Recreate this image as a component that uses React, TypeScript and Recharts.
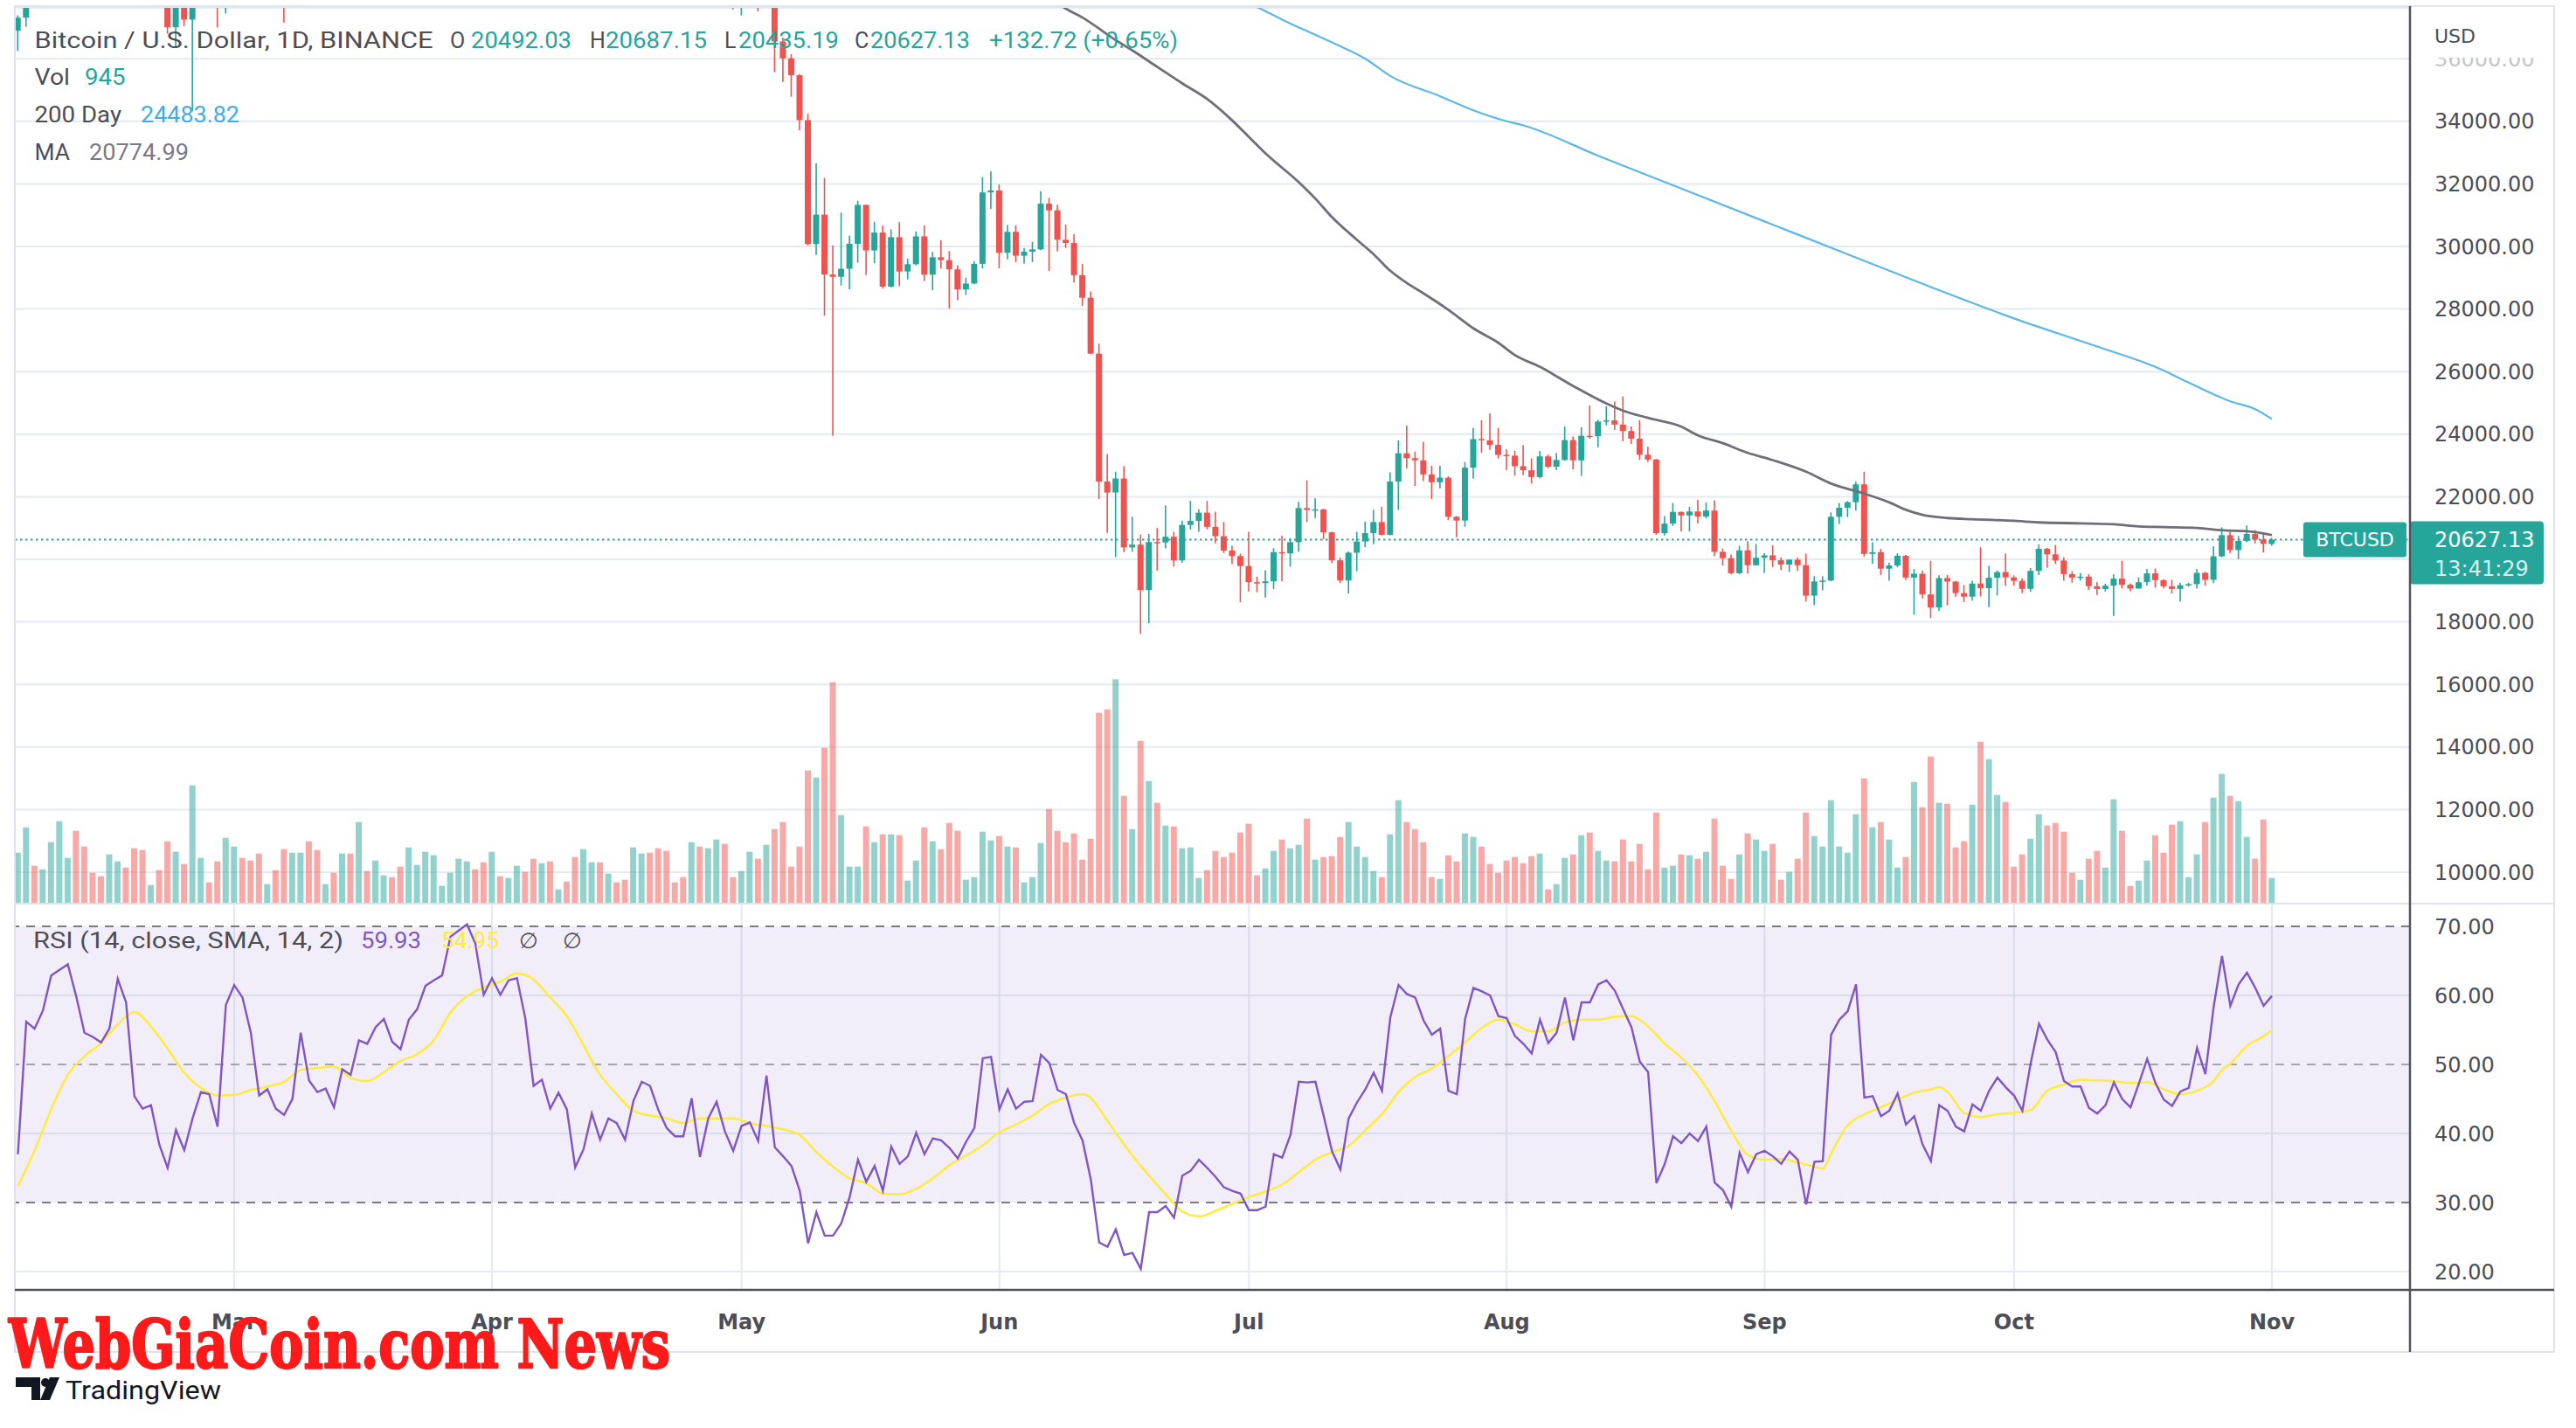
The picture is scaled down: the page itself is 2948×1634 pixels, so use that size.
import React from 'react';
import { ComposedChart, Bar, Line, XAxis, YAxis, CartesianGrid, ReferenceLine, ReferenceArea } from 'recharts';

// ---------------- DATA ----------------
// Daily candles [open, high, low, close], Feb 3 2022 .. Nov 1 2022
const febCandles = [
  [36896, 37387, 36250, 37311], [37311, 41772, 37026, 41574], [41574, 41913, 40843, 41382], [41382, 42657, 41116, 42380],
  [42380, 44500, 41645, 43839], [43839, 45492, 42666, 44042], [44042, 44799, 43117, 44373], [44373, 45821, 43187, 43495],
  [43495, 43920, 42000, 42373], [42373, 43079, 41748, 42217], [42217, 42760, 41870, 42053], [42053, 42876, 41570, 42535],
  [42535, 44751, 42427, 44544], [44544, 44549, 43307, 43873], [43873, 44164, 40073, 40515], [40515, 40959, 39450, 39974],
  [39974, 40444, 39639, 40079], [40079, 40124, 38000, 38386], [38386, 39494, 36800, 37008], [37008, 38429, 36350, 38230],
  [38230, 39249, 37036, 37250], [37250, 39843, 34322, 38327], [38327, 39683, 38014, 39219], [39219, 40348, 38573, 39116],
  [39116, 39855, 37000, 37700], [37700, 44225, 37450, 43160],
];
const marCandles = [
  [43160, 44949, 42809, 44421], [44421, 45400, 43334, 43892], [43892, 44102, 41832, 42455], [42455, 42527, 38550, 39148],
  [39148, 39613, 38407, 39397], [39397, 39693, 38088, 38420], [38420, 39547, 37155, 37988], [37988, 39362, 37867, 38730],
  [38730, 42594, 38656, 41941], [41941, 42039, 38539, 39422], [39422, 40236, 38223, 38729], [38729, 39486, 38660, 38807],
  [38807, 39310, 37700, 37777], [37777, 39947, 37650, 39671], [39671, 39887, 38098, 39280], [39280, 41718, 38828, 41114],
  [41114, 41478, 40500, 40917], [40917, 42325, 40135, 41757], [41757, 42400, 41499, 42201], [42201, 42296, 40911, 41262],
  [41262, 41544, 40468, 41002], [41002, 43361, 40875, 42364], [42364, 42893, 41751, 42882], [42882, 44220, 42560, 43991],
  [43991, 45094, 43579, 44313], [44313, 44792, 44071, 44511], [44511, 46999, 44422, 46827], [46827, 48190, 46664, 47122],
  [47122, 48096, 46950, 47434], [47434, 47700, 46445, 47067], [47067, 47600, 45200, 45510],
];
const aprCandles = [
  [45510, 46720, 44200, 46283], [46283, 47213, 45620, 45811], [45811, 47444, 45530, 46407], [46407, 46891, 45118, 46580],
  [46580, 47200, 45353, 45497], [45497, 45507, 43121, 43171], [43171, 43900, 42727, 43445], [43445, 43970, 42107, 42253],
  [42253, 42800, 42125, 42754], [42754, 43430, 41868, 42159], [42159, 42414, 39200, 39530], [39530, 40699, 39254, 40075],
  [40075, 41561, 39588, 41148], [41148, 41500, 39551, 39942], [39942, 40870, 39766, 40552], [40552, 40709, 39992, 40378],
  [40378, 40595, 39546, 39678], [39678, 41116, 38536, 40801], [40801, 41760, 40571, 41493], [41493, 42199, 40820, 41358],
  [41358, 42976, 39751, 40480], [40480, 40795, 39177, 39709], [39709, 39980, 39285, 39441], [39441, 39940, 38929, 39400],
  [39400, 40616, 38200, 40427], [40427, 40797, 37702, 38112], [38112, 39474, 37881, 39235], [39235, 40372, 38881, 39742],
  [39742, 39925, 38175, 38596], [38596, 38795, 37578, 37630],
];
const mayCandles = [
  [37630, 38675, 37386, 38468], [38468, 39167, 38052, 38525], [38525, 38651, 37510, 37729], [37729, 40023, 37671, 39690],
  [39690, 39845, 35571, 36552], [36552, 36675, 35258, 36013], [36013, 36146, 34785, 35472], [35472, 35510, 33713, 34039],
  [34039, 34244, 30033, 30077], [30077, 32659, 29730, 31017], [31017, 32190, 27785, 29103], [29103, 30033, 23950, 29030],
  [29030, 31083, 28751, 29287], [29287, 30343, 28630, 30086], [30086, 31460, 29480, 31329], [31329, 31329, 29088, 29874],
  [29874, 30788, 29460, 30444], [30444, 30668, 28654, 28716], [28716, 30545, 28691, 30297], [30297, 30777, 28730, 29200],
  [29200, 29607, 28947, 29432], [29432, 30480, 29400, 30323], [30323, 30670, 28893, 29098], [29098, 29830, 28600, 29655],
  [29655, 30200, 29300, 29562], [29562, 29850, 28019, 29267], [29267, 29400, 28282, 28627], [28627, 29000, 28450, 28814],
  [28814, 29530, 28800, 29445], [29445, 32222, 29300, 31726], [31726, 32399, 31200, 31792],
];
const junCandles = [
  [31792, 31982, 29301, 29799], [29799, 30690, 29590, 30467], [30467, 30675, 29500, 29704], [29704, 29950, 29450, 29832],
  [29832, 30150, 29500, 29906], [29906, 31765, 29880, 31370], [31370, 31555, 29218, 31155], [31155, 31330, 29845, 30214],
  [30214, 30700, 29950, 30112], [30112, 30390, 28850, 29083], [29083, 29440, 28100, 28360], [28360, 28560, 26560, 26574],
  [26574, 26895, 21925, 22487], [22487, 23362, 20846, 22136], [22136, 22800, 20071, 22583], [22583, 22980, 20232, 20381],
  [20381, 21365, 20246, 20471], [20471, 20790, 17622, 19017], [19017, 20815, 17960, 20553], [20553, 21000, 19637, 20540],
  [20540, 21723, 20348, 20720], [20720, 20880, 19770, 19965], [19965, 21233, 19890, 21100], [21100, 21868, 20950, 21226],
  [21226, 21600, 20880, 21490], [21490, 21868, 20960, 21038], [21038, 21520, 20510, 20740], [20740, 21190, 20200, 20280],
  [20280, 20430, 19850, 20104], [20104, 20180, 18626, 19785],
];
const julCandles = [
  [19785, 20880, 18975, 19269], [19269, 19440, 18950, 19242], [19242, 19650, 18781, 19297], [19297, 20355, 19050, 20231],
  [20231, 20750, 19304, 20190], [20190, 20675, 19765, 20548], [20548, 21838, 20240, 21637], [21637, 22527, 21190, 21582],
  [21582, 21950, 21320, 21596], [21596, 21610, 20650, 20862], [20862, 20880, 19880, 19970], [19970, 20050, 19240, 19323],
  [19323, 20250, 18910, 20212], [20212, 20880, 19620, 20569], [20569, 21200, 20390, 20836], [20836, 21580, 20480, 21190],
  [21190, 21680, 20760, 20780], [20780, 22780, 20765, 22485], [22485, 23800, 21580, 23389], [23389, 24276, 22900, 23231],
  [23231, 23440, 22341, 23164], [23164, 23756, 22500, 22714], [22714, 22990, 21930, 22465], [22465, 22990, 22270, 22609],
  [22609, 22655, 21250, 21361], [21361, 21380, 20706, 21239], [21239, 23110, 21040, 22930], [22930, 24199, 22580, 23843],
  [23843, 24442, 23410, 23804], [23804, 24668, 23500, 23656], [23656, 24200, 23225, 23336],
];
const augCandles = [
  [23336, 23510, 22850, 23314], [23314, 23470, 22670, 22978], [22978, 23650, 22690, 22846], [22846, 23225, 22430, 22630],
  [22630, 23460, 22590, 23289], [23289, 23350, 22910, 22961], [22961, 23395, 22855, 23175], [23175, 24245, 23155, 23810],
  [23810, 23925, 22880, 23164], [23164, 24225, 22665, 23948], [23948, 24918, 23860, 23935], [23935, 24458, 23580, 24403],
  [24403, 24890, 24288, 24441], [24441, 25047, 24140, 24305], [24305, 25211, 23773, 24101], [24101, 24247, 23688, 23854],
  [23854, 24446, 23180, 23342], [23342, 23600, 23110, 23191], [23191, 23208, 20783, 20834], [20834, 21382, 20762, 21140],
  [21140, 21800, 21068, 21516], [21516, 21522, 20890, 21400], [21400, 21680, 20890, 21529], [21529, 21900, 21150, 21368],
  [21368, 21819, 21310, 21560], [21560, 21887, 20100, 20241], [20241, 20347, 19800, 20037], [20037, 20150, 19520, 19555],
  [19555, 20433, 19530, 20285], [20285, 20577, 19540, 19812], [19812, 20490, 19800, 20050],
];
const sepCandles = [
  [20050, 20198, 19565, 20127], [20127, 20445, 19754, 19970], [19970, 20055, 19655, 19832], [19832, 20000, 19596, 19987],
  [19987, 20058, 19633, 19812], [19812, 20180, 18650, 18838], [18838, 19460, 18540, 19291], [19291, 19460, 19010, 19320],
  [19320, 21500, 19298, 21360], [21360, 21800, 21130, 21649], [21649, 21860, 21350, 21826], [21826, 22488, 21560, 22395],
  [22395, 22799, 20080, 20173], [20173, 20545, 19860, 20227], [20227, 20330, 19500, 19701], [19701, 19890, 19320, 19803],
  [19803, 20190, 19750, 20113], [20113, 20140, 19340, 19417], [19417, 19690, 18230, 19538], [19538, 19640, 18750, 18876],
  [18876, 19950, 18125, 18461], [18461, 19490, 18355, 19401], [19401, 19500, 18530, 19289], [19289, 19310, 18805, 18920],
  [18920, 19180, 18630, 18807], [18807, 19315, 18680, 19227], [19227, 20385, 18816, 19079], [19079, 19790, 18470, 19412],
  [19412, 19645, 18845, 19591], [19591, 20185, 19155, 19423],
];
const octCandles = [
  [19423, 19485, 19160, 19311], [19311, 19395, 18920, 19056], [19056, 19720, 18960, 19629], [19629, 20475, 19495, 20337],
  [20337, 20365, 19730, 20158], [20158, 20456, 19855, 19961], [19961, 20060, 19320, 19530], [19530, 19615, 19255, 19417],
  [19417, 19560, 19315, 19446], [19446, 19525, 19025, 19141], [19141, 19270, 18860, 19052], [19052, 19220, 18970, 19157],
  [19157, 19520, 18190, 19382], [19382, 19950, 19070, 19185], [19185, 19230, 18975, 19068], [19068, 19425, 19065, 19268],
  [19268, 19690, 19160, 19550], [19550, 19705, 19095, 19334], [19334, 19360, 19070, 19139], [19139, 19345, 18905, 19054],
  [19054, 19250, 18650, 19172], [19172, 19250, 19125, 19208], [19208, 19695, 19070, 19567], [19567, 19600, 19160, 19345],
  [19345, 20415, 19240, 20095], [20095, 21020, 20065, 20771], [20771, 20875, 20200, 20295], [20295, 20750, 20000, 20591],
  [20591, 21085, 20550, 20809], [20809, 20930, 20510, 20627], [20627, 20840, 20220, 20492],
];
const novCandles = [[20492.03, 20687.15, 20435.19, 20627.13]];

const febVol = [1873, 2803, 1391, 1263, 2258, 3028, 1680, 2675, 2097, 1134, 1006, 1808, 1552, 1327, 2033, 1969, 685, 1231, 2290, 1905, 1455, 4344, 1680, 781, 1552, 2418];
const marVol = [2097, 1680, 1584, 1840, 717, 1231, 2001, 1873, 1873, 2290, 1969, 717, 1134, 1840, 1840, 2996, 1198, 1584, 1038, 974, 1359, 2065, 1423, 1905, 1776, 653, 1134, 1648, 1552, 1263, 1519];
const aprVol = [1905, 1006, 942, 1391, 1166, 1648, 1487, 1552, 524, 813, 1712, 2001, 1519, 1519, 1102, 781, 877, 2065, 1840, 1873, 2033, 1937, 781, 974, 2258, 2097, 2033, 2354, 2194, 974];
const mayVol = [1198, 1905, 1648, 2161, 2739, 2996, 1359, 2097, 4890, 4633, 5725, 8132, 3253, 1359, 1359, 2836, 2258, 2547, 2547, 2515, 845, 1584, 2803, 2290, 2001, 2964, 2675, 877, 974, 2643, 2322];
const junVol = [2482, 2097, 2065, 781, 974, 2226, 3478, 2675, 2258, 2579, 1616, 2386, 7009, 7137, 8239, 3959, 2739, 5981, 4505, 3702, 2868, 2836, 2033, 2065, 942, 1231, 1937, 1712, 1873, 2611];
const julVol = [2932, 1038, 1295, 1937, 2354, 2033, 2161, 3124, 1616, 1712, 1744, 2450, 2996, 2097, 1712, 1198, 974, 2547, 3799, 2996, 2739, 2258, 974, 910, 1776, 1552, 2579, 2450, 2097, 1455, 1134];
const augVol = [1584, 1712, 1487, 1744, 1840, 524, 717, 1680, 1808, 2515, 2611, 1937, 1584, 1552, 2354, 1552, 2194, 1263, 3349, 1327, 1391, 1808, 1776, 1648, 1905, 3124, 1391, 910, 1808, 2579, 2354];
const sepVol = [1937, 2194, 877, 1166, 1648, 3349, 2482, 2097, 3799, 2097, 1873, 3285, 4601, 2803, 2996, 2354, 1327, 1712, 4473, 3542, 5404, 3702, 3670, 2065, 2290, 3638, 5949, 5307, 3991, 3734];
const octVol = [1359, 1808, 2386, 3285, 2868, 2964, 2643, 1134, 877, 1648, 1937, 1327, 3831, 2675, 653, 845, 1584, 2515, 1873, 2900, 3028, 974, 1808, 2996, 3895, 4762, 3959, 3766, 2450, 1648, 3092];
const novVol = [945];

const febRsi = [37.0, 56.2, 55.2, 57.8, 62.9, 63.7, 64.5, 59.9, 54.6, 54.0, 53.2, 55.2, 62.4, 59.0, 45.4, 43.6, 44.1, 38.4, 35.0, 40.5, 37.6, 42.2, 46.0, 45.7, 41.0, 58.6];
const marRsi = [61.5, 59.7, 54.6, 45.5, 46.4, 43.6, 42.7, 45.0, 54.6, 47.7, 46.0, 46.5, 43.8, 49.3, 48.5, 53.5, 53.0, 55.4, 56.6, 53.3, 52.2, 56.5, 58.0, 61.4, 62.2, 62.9, 68.5, 69.4, 70.3, 67.5, 60.1];
const aprRsi = [62.5, 60.1, 62.2, 62.5, 56.7, 46.9, 47.8, 43.6, 45.9, 43.5, 35.1, 37.7, 42.9, 39.1, 42.2, 41.5, 39.1, 44.7, 47.5, 46.9, 43.4, 40.8, 39.6, 39.6, 45.1, 36.6, 42.2, 44.6, 40.3, 37.5];
const mayRsi = [41.1, 41.6, 38.9, 48.4, 38.0, 36.7, 35.3, 31.7, 24.1, 28.6, 25.2, 25.2, 27.0, 30.8, 36.2, 33.0, 35.3, 31.7, 38.1, 35.6, 36.7, 40.1, 37.0, 39.3, 39.0, 37.9, 36.4, 38.8, 40.8, 50.9, 51.1];
const junRsi = [43.5, 46.4, 43.6, 44.6, 44.7, 51.4, 50.2, 46.3, 45.7, 41.5, 39.0, 33.3, 24.2, 23.6, 26.1, 22.4, 22.7, 20.4, 28.6, 28.6, 29.5, 27.8, 33.9, 34.6, 36.2, 35.0, 33.7, 32.2, 31.7, 31.3];
const julRsi = [28.9, 28.9, 29.4, 37.0, 36.5, 39.8, 47.5, 47.4, 47.5, 42.5, 37.4, 34.8, 42.2, 44.5, 46.4, 48.8, 46.2, 56.8, 61.5, 60.2, 59.7, 56.4, 54.3, 55.2, 46.2, 45.7, 56.6, 61.1, 60.6, 60.0, 57.0];
const augRsi = [56.7, 54.1, 53.0, 51.6, 56.5, 53.1, 54.6, 59.7, 53.5, 59.0, 59.0, 61.6, 62.2, 60.7, 58.0, 55.4, 50.4, 48.9, 32.8, 35.6, 39.6, 38.6, 40.0, 38.9, 41.0, 32.9, 31.8, 29.4, 37.2, 34.4, 37.0];
const sepRsi = [37.5, 36.7, 35.6, 37.4, 36.2, 29.7, 35.9, 36.0, 54.3, 56.5, 57.7, 61.6, 45.2, 45.4, 42.5, 43.3, 45.8, 41.3, 42.5, 38.4, 36.0, 44.1, 43.3, 41.0, 40.3, 44.2, 43.3, 46.2, 48.1, 46.7];
const octRsi = [45.5, 43.3, 50.2, 55.9, 53.6, 51.8, 47.6, 46.8, 46.8, 43.7, 42.9, 44.1, 47.4, 45.0, 43.8, 47.2, 50.8, 47.3, 44.9, 44.0, 46.1, 46.6, 52.4, 48.6, 58.4, 65.7, 58.5, 61.6, 63.3, 61.1, 58.5];
const novRsi = [59.93];

// [day index, value] samples
const rsiSmaPoints = [
  [0, 32.4], [2, 37.5], [4, 43.5], [6, 48.5], [8, 51.2], [10, 53.1], [12, 55.8], [14, 57.6], [16, 55.5], [18, 52.3], [20, 48.8],
  [22, 46.6], [24, 45.5], [26, 45.6], [28, 46.3], [30, 46.8], [32, 47.5], [34, 49.2], [36, 49.5], [38, 49.7], [40, 48.1], [42, 47.6],
  [44, 48.9], [46, 50.5], [48, 51.5], [50, 53.5], [52, 57.5], [54, 59.9], [56, 61.2], [58, 62.0], [60, 63.2], [62, 62.3], [64, 59.7],
  [66, 57.0], [68, 52.8], [70, 48.5], [72, 45.7], [74, 43.3], [76, 42.6], [78, 42.2], [80, 41.5], [82, 42.2], [84, 42.2], [86, 42.2],
  [88, 41.5], [90, 41.1], [92, 40.6], [94, 39.8], [96, 37.3], [98, 35.2], [100, 33.5], [102, 32.8], [104, 31.3], [106, 31.2],
  [108, 32.0], [110, 33.5], [112, 35.4], [114, 36.8], [116, 38.3], [118, 40.2], [120, 41.3], [122, 42.6], [124, 44.3], [126, 45.2],
  [128, 45.7], [129, 45.2], [130, 43.6], [132, 40.1], [134, 36.8], [136, 33.9], [138, 31.2], [140, 28.7], [142, 28.0], [144, 28.8],
  [146, 29.8], [148, 30.8], [150, 31.6], [152, 32.6], [154, 34.4], [156, 36.2], [158, 37.3], [160, 38.2], [162, 40.5], [164, 42.8],
  [166, 46.0], [168, 48.2], [170, 49.4], [172, 51.2], [174, 53.2], [176, 55.3], [178, 56.5], [180, 55.8], [182, 54.8], [184, 54.8],
  [186, 56.1], [188, 56.5], [190, 56.5], [192, 56.9], [194, 57.0], [196, 55.5], [198, 53.0], [200, 51.0], [202, 48.4], [204, 44.7],
  [206, 40.4], [208, 36.9], [210, 36.2], [212, 36.3], [214, 35.8], [216, 35.2], [217, 34.9], [218, 37.1], [220, 41.2], [222, 42.8],
  [224, 43.8], [226, 44.9], [228, 45.9], [230, 46.4], [231, 46.7], [232, 46.0], [234, 43.0], [236, 42.4], [238, 42.8], [240, 43.0],
  [242, 43.4], [244, 46.2], [246, 47.1], [248, 47.8], [250, 47.7], [252, 47.6], [254, 47.3], [256, 47.4], [258, 46.4], [260, 45.7],
  [262, 46.2], [264, 47.6], [265, 49.2], [266, 50.1], [268, 52.7], [270, 54.1], [271, 54.95],
];
const ma100Points = [
  [124, 37950], [126, 37600], [128, 37316], [132, 36592], [134, 36263], [137, 35737], [140, 35210], [143, 34710], [146, 34026],
  [148, 33500], [150, 32974], [154, 32053], [156, 31526], [158, 30934], [161, 30211], [163, 29750], [165, 29224], [167, 28829],
  [169, 28500], [172, 27974], [175, 27382], [178, 26921], [180, 26526], [183, 26150], [187, 25540], [191, 24980], [193, 24750],
  [196, 24520], [200, 24240], [202, 23960], [205, 23710], [208, 23400], [211, 23170], [215, 22800], [218, 22420], [222, 22100],
  [225, 21820], [227, 21580], [229, 21420], [232, 21320], [235, 21280], [240, 21230], [243, 21180], [248, 21150], [252, 21120],
  [255, 21050], [258, 21030], [262, 21000], [265, 20930], [269, 20870], [271, 20774.99],
];
const ma200Points = [
  [147, 37900], [149, 37650], [152, 37250], [158, 36520], [162, 36000], [165, 35450], [171, 34800], [175, 34350], [179, 34000],
  [181, 33870], [190, 32900], [200, 31850], [210, 30800], [220, 29750], [230, 28700], [240, 27700], [250, 26800], [257, 26150],
  [261, 25650], [266, 25050], [269, 24800], [271, 24483.82],
];

const monthTicks = [26, 57, 87, 118, 148, 179, 210, 240, 271];
const monthLabels = ['Mar', 'Apr', 'May', 'Jun', 'Jul', 'Aug', 'Sep', 'Oct', 'Nov'];
const priceTicks = [10000, 12000, 14000, 16000, 18000, 20000, 22000, 24000, 26000, 28000, 30000, 32000, 34000, 36000];
const rsiTicks = [20, 30, 40, 50, 60, 70];
const lastPrice = 20627.13;

// ---------------- STYLE / LAYOUT ----------------
const W = 2948;
const PLOT_LEFT = 17;
const PLOT_RIGHT = 2758;
const AXIS_W = 165;
const RIGHT_EDGE = 2923;
const PRICE_H = 1034;
const RSI_TOP = 1034;
const RSI_H = 512;
const X_DOMAIN: [number, number] = [-0.37, 287.6];
const PRICE_DOMAIN: [number, number] = [8994, 37626];
const VOL_DOMAIN: [number, number] = [0, 32900];
const RSI_DOMAIN: [number, number] = [17.34, 73.3];
const UP = '#26a69a';
const DOWN = '#ef5350';
const GRID = '#e4eaf1';
const AXIS_TEXT = '#4c4e57';
const AXIS_FONT = 'DejaVu Sans';
const LEGEND_FONT = 'Roboto';

const candles = [...febCandles, ...marCandles, ...aprCandles, ...mayCandles, ...junCandles, ...julCandles, ...augCandles, ...sepCandles, ...octCandles, ...novCandles];
const volumes = [...febVol, ...marVol, ...aprVol, ...mayVol, ...junVol, ...julVol, ...augVol, ...sepVol, ...octVol, ...novVol];
const rsiValues = [...febRsi, ...marRsi, ...aprRsi, ...mayRsi, ...junRsi, ...julRsi, ...augRsi, ...sepRsi, ...octRsi, ...novRsi];
const smaMap = new Map(rsiSmaPoints.map(([i, v]) => [i, v]));
const ma100Map = new Map(ma100Points.map(([i, v]) => [i, v]));
const ma200Map = new Map(ma200Points.map(([i, v]) => [i, v]));

const data = candles.map(([o, h, l, c], i) => ({
  i, o, h, l, c,
  range: [l, h],
  up: c >= o,
  vol: volumes[i],
  rsi: rsiValues[i],
  rsiSma: smaMap.has(i) ? smaMap.get(i) : null,
  ma100: ma100Map.has(i) ? ma100Map.get(i) : null,
  ma200: ma200Map.has(i) ? ma200Map.get(i) : null,
}));

// ---------------- SHAPES ----------------
const Candle = (props: any) => {
  const { x, y, width, height, payload } = props;
  if (x == null || y == null || !payload) return null;
  const top = Math.min(y, y + height);
  const bot = Math.max(y, y + height);
  const { o, h, l, c } = payload;
  const span = h - l || 1;
  const toY = (v: number) => top + ((h - v) / span) * (bot - top);
  const color = c >= o ? UP : DOWN;
  const bTop = toY(Math.max(o, c));
  const bBot = toY(Math.min(o, c));
  const cx = x + width / 2;
  return (
    <g>
      <rect x={cx - 0.8} y={top} width={1.6} height={Math.max(1, bot - top)} fill={color} />
      <rect x={x} y={bTop} width={width} height={Math.max(1.5, bBot - bTop)} fill={color} />
    </g>
  );
};

const VolBar = (props: any) => {
  const { x, y, width, height, payload } = props;
  if (x == null || !payload) return null;
  return <rect x={x} y={Math.min(y, y + height)} width={width} height={Math.abs(height)} fill={payload.up ? UP : DOWN} fillOpacity={0.5} />;
};

const PriceTick = (props: any) => {
  const { y, payload } = props;
  const v = payload.value as number;
  return (
    <text x={PLOT_RIGHT + 28} y={y} dy="0.36em" fill={v === 36000 ? '#c4c6cc' : AXIS_TEXT} fontSize={24} fontFamily={AXIS_FONT}>
      {v.toFixed(2)}
    </text>
  );
};

const RsiTick = (props: any) => {
  const { y, payload } = props;
  return (
    <text x={PLOT_RIGHT + 28} y={y} dy="0.36em" fill={AXIS_TEXT} fontSize={24} fontFamily={AXIS_FONT}>
      {(payload.value as number).toFixed(2)}
    </text>
  );
};

const MonthTick = (props: any) => {
  const { x, payload } = props;
  const idx = monthTicks.indexOf(payload.value);
  return (
    <text x={x} y={487} textAnchor="middle" fill={AXIS_TEXT} fontSize={24} fontFamily={AXIS_FONT} fontWeight={600}>
      {monthLabels[idx]}
    </text>
  );
};

const PriceTag = (props: any) => {
  const vb = props.viewBox || {};
  const yy = vb.y;
  const right = vb.x + vb.width;
  if (yy == null || isNaN(right)) return null;
  return (
    <g>
      <rect x={right - 122} y={yy - 20} width={118} height={40} rx={3} fill={UP} />
      <text x={right - 63} y={yy} dy="0.36em" textAnchor="middle" fill="#ffffff" fontSize={22} fontFamily={AXIS_FONT}>BTCUSD</text>
      <rect x={right} y={yy - 21} width={153} height={72} rx={4} fill={UP} />
      <text x={right + 28} y={yy} dy="0.36em" fill="#ffffff" fontSize={24} fontFamily={AXIS_FONT}>{lastPrice.toFixed(2)}</text>
      <text x={right + 28} y={yy + 33} dy="0.36em" fill="#d6efec" fontSize={24} fontFamily={AXIS_FONT}>13:41:29</text>
    </g>
  );
};

// ---------------- OVERLAY ----------------
const Overlay = () => (
  <svg width={W} height={1634} style={{ position: 'absolute', left: 0, top: 0, pointerEvents: 'none' }}>
    {/* frame */}
    <rect x={PLOT_LEFT} y={7} width={RIGHT_EDGE - PLOT_LEFT} height={1540} fill="none" stroke="#e0e3eb" strokeWidth={2} />
    <line x1={PLOT_LEFT} x2={RIGHT_EDGE} y1={1034} y2={1034} stroke="#e0e3eb" strokeWidth={2} />
    <line x1={PLOT_LEFT} x2={RIGHT_EDGE} y1={1476} y2={1476} stroke="#50535e" strokeWidth={2.5} />
    <line x1={PLOT_RIGHT} x2={PLOT_RIGHT} y1={7} y2={1547} stroke="#50535e" strokeWidth={2.5} />
    {/* USD label */}
    <rect x={PLOT_RIGHT + 3} y={9} width={RIGHT_EDGE - PLOT_RIGHT - 5} height={57} fill="#ffffff" />
    <text x={2786} y={49} fill={AXIS_TEXT} fontSize={22} fontFamily={AXIS_FONT}>USD</text>

    {/* price legend */}
    <g fontFamily={LEGEND_FONT} fontSize={25}>
      <text x={39.5} y={55} fill="#4c4e57" textLength={456} lengthAdjust="spacingAndGlyphs">Bitcoin / U.S. Dollar, 1D, BINANCE</text>
      <text x={515} y={55} fill="#4c4e57">O</text>
      <text x={539} y={55} fill={UP} textLength={115} lengthAdjust="spacingAndGlyphs">20492.03</text>
      <text x={675} y={55} fill="#4c4e57">H</text>
      <text x={693} y={55} fill={UP} textLength={116} lengthAdjust="spacingAndGlyphs">20687.15</text>
      <text x={829} y={55} fill="#4c4e57">L</text>
      <text x={845} y={55} fill={UP} textLength={115} lengthAdjust="spacingAndGlyphs">20435.19</text>
      <text x={978} y={55} fill="#4c4e57">C</text>
      <text x={996} y={55} fill={UP} textLength={114} lengthAdjust="spacingAndGlyphs">20627.13</text>
      <text x={1132} y={55} fill={UP} textLength={216} lengthAdjust="spacingAndGlyphs">+132.72 (+0.65%)</text>

      <text x={39.5} y={97} fill="#4c4e57" textLength={40.5} lengthAdjust="spacingAndGlyphs">Vol</text>
      <text x={97} y={97} fill={UP} textLength={46.5} lengthAdjust="spacingAndGlyphs">945</text>

      <text x={39.5} y={140} fill="#4c4e57" textLength={99.5} lengthAdjust="spacingAndGlyphs">200 Day</text>
      <text x={161} y={140} fill="#3eaee3" textLength={113} lengthAdjust="spacingAndGlyphs">24483.82</text>

      <text x={39.5} y={183} fill="#4c4e57" textLength={40.5} lengthAdjust="spacingAndGlyphs">MA</text>
      <text x={102} y={183} fill="#787b86" textLength={114} lengthAdjust="spacingAndGlyphs">20774.99</text>

      {/* RSI legend */}
      <text x={38} y={1085} fill="#4c4e57" textLength={355} lengthAdjust="spacingAndGlyphs">RSI (14, close, SMA, 14, 2)</text>
      <text x={413} y={1085} fill="#7e57c2" textLength={69} lengthAdjust="spacingAndGlyphs">59.93</text>
      <text x={505} y={1085} fill="#ffeb3b" textLength={66} lengthAdjust="spacingAndGlyphs">54.95</text>
      <text x={594} y={1085} fill="#4c4e57">∅</text>
      <text x={644} y={1085} fill="#4c4e57">∅</text>
    </g>

    {/* watermark */}
    <text x={10} y={1565} fill="#fe1a1a" stroke="#fe1a1a" strokeWidth={2.5} strokeLinejoin="round" fontSize={76} fontWeight={700} fontFamily="DejaVu Serif" textLength={757} lengthAdjust="spacingAndGlyphs">
      WebGiaCoin.com News
    </text>
    {/* TradingView logo */}
    <g fill="#131722">
      <path d="M18 1576 H46 V1602 H36 V1587 H18 Z" />
      <circle cx={52} cy={1582} r={5} />
      <path d="M57 1576 H68 L57 1602 H46 Z" />
    </g>
    <text x={75} y={1601} fill="#131722" fontSize={29} fontFamily={LEGEND_FONT} textLength={178} lengthAdjust="spacingAndGlyphs">TradingView</text>
  </svg>
);

export default function App() {
  return (
    <div style={{ position: 'absolute', left: 0, top: 0, width: W, height: 1634, background: '#ffffff', overflow: 'hidden' }}>
      {/* grid + volume + price axis */}
      <div style={{ position: 'absolute', left: 0, top: 0 }}>
        <ComposedChart width={W} height={PRICE_H} data={data} margin={{ top: 9, right: W - RIGHT_EDGE, bottom: 0, left: PLOT_LEFT }}>
          <XAxis dataKey="i" type="number" domain={X_DOMAIN} allowDataOverflow ticks={monthTicks} height={0} tick={false} tickLine={false} axisLine={false} />
          <YAxis orientation="right" width={AXIS_W} domain={PRICE_DOMAIN} allowDataOverflow ticks={priceTicks} interval={0} tickLine={false} axisLine={false} tick={<PriceTick />} />
          <YAxis yAxisId="vol" hide domain={VOL_DOMAIN} />
          <CartesianGrid stroke={GRID} strokeWidth={2} />
          <Bar dataKey="vol" yAxisId="vol" barSize={7} isAnimationActive={false} shape={<VolBar />} />
        </ComposedChart>
      </div>
      {/* candles + moving averages */}
      <div style={{ position: 'absolute', left: 0, top: 0 }}>
        <ComposedChart width={W} height={PRICE_H} data={data} margin={{ top: 9, right: W - PLOT_RIGHT, bottom: 0, left: PLOT_LEFT }}>
          <XAxis dataKey="i" type="number" domain={X_DOMAIN} allowDataOverflow hide />
          <YAxis yAxisId="p" hide domain={PRICE_DOMAIN} allowDataOverflow />
          <Line dataKey="ma200" yAxisId="p" type="monotone" stroke="#5cb8e8" strokeWidth={2.2} dot={false} connectNulls isAnimationActive={false} />
          <Line dataKey="ma100" yAxisId="p" type="monotone" stroke="#6f6f7a" strokeWidth={2.8} dot={false} connectNulls isAnimationActive={false} />
          <Bar dataKey="range" yAxisId="p" barSize={7} isAnimationActive={false} shape={<Candle />} />
          <ReferenceLine y={lastPrice} yAxisId="p" stroke={UP} strokeWidth={2} strokeDasharray="2.5 3.5" label={<PriceTag />} />
        </ComposedChart>
      </div>
      {/* RSI pane */}
      <div style={{ position: 'absolute', left: 0, top: RSI_TOP }}>
        <ComposedChart width={W} height={RSI_H} data={data} margin={{ top: 0, right: W - RIGHT_EDGE, bottom: 0, left: PLOT_LEFT }}>
          <XAxis dataKey="i" type="number" domain={X_DOMAIN} allowDataOverflow ticks={monthTicks} interval={0} height={70} tickLine={false} axisLine={false} tick={<MonthTick />} />
          <YAxis orientation="right" width={AXIS_W} domain={RSI_DOMAIN} allowDataOverflow ticks={rsiTicks} interval={0} tickLine={false} axisLine={false} tick={<RsiTick />} />
          <ReferenceArea y1={30} y2={70} fill="#7e57c2" fillOpacity={0.1} stroke="none" />
          <CartesianGrid stroke={GRID} strokeWidth={2} horizontal={false} />
          <ReferenceLine y={60} stroke="#d8ddea" strokeWidth={2} />
          <ReferenceLine y={40} stroke="#d8ddea" strokeWidth={2} />
          <ReferenceLine y={20} stroke={GRID} strokeWidth={2} />
          <ReferenceLine y={70} stroke="#787b86" strokeWidth={2} strokeDasharray="10 8" />
          <ReferenceLine y={50} stroke="#a3a6af" strokeWidth={2} strokeDasharray="10 8" />
          <ReferenceLine y={30} stroke="#787b86" strokeWidth={2} strokeDasharray="10 8" />
          <Line dataKey="rsiSma" type="monotone" stroke="#ffeb3b" strokeWidth={2.5} dot={false} connectNulls isAnimationActive={false} />
          <Line dataKey="rsi" type="linear" stroke="#7e57c2" strokeWidth={2.4} dot={false} isAnimationActive={false} />
        </ComposedChart>
      </div>
      <Overlay />
    </div>
  );
}
